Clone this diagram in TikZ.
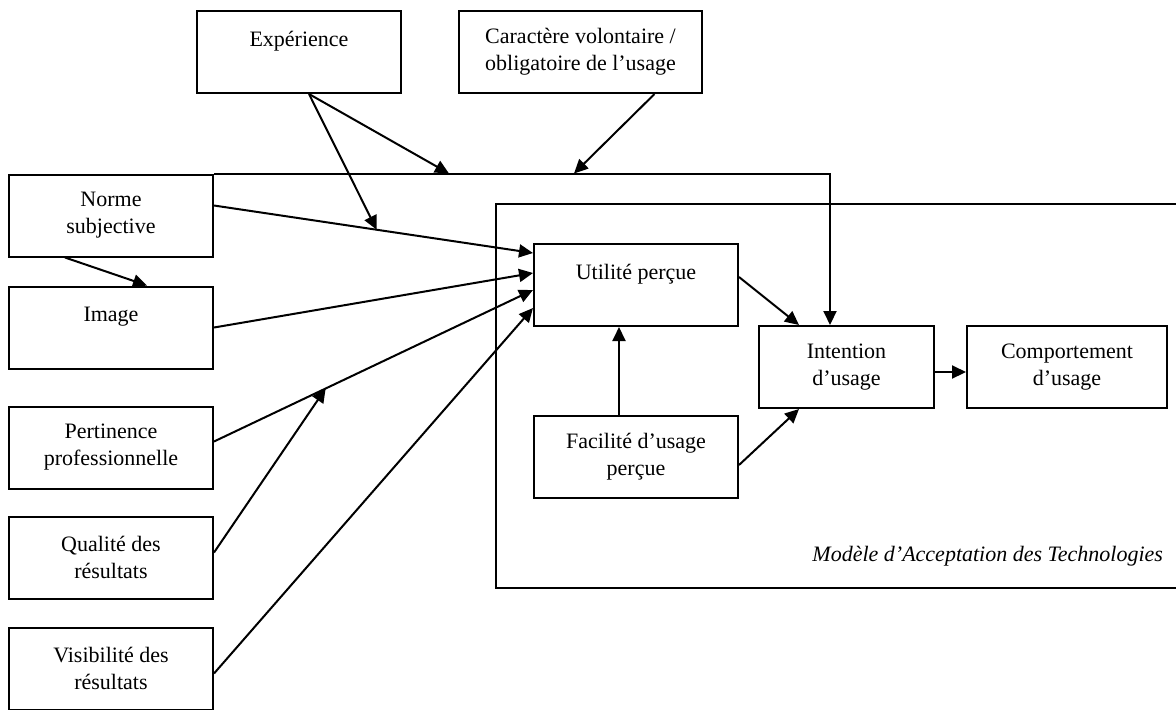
\documentclass[tikz,border=0pt]{standalone}
\usepackage{fontspec}
\setmainfont{Liberation Serif}
\usetikzlibrary{arrows.meta,calc,positioning}

\begin{document}
\begin{tikzpicture}[x=0.5pt,y=-0.5pt,node distance=56pt,
        box/.style={draw,line width=1pt,minimum width=102pt,minimum height=41pt,
            inner sep=0pt,align=center,font=\fontsize{11}{13.5}\selectfont},
        arr/.style={-{Triangle[length=7pt,width=6.5pt]},line width=1pt}]
        \useasboundingbox (0,0) rectangle (1176,709);

        % variables externes
        \node[box] (expe) at (299,52) {Expérience\\~};
        \node[box,minimum width=121.5pt] (carac) at (580.5,52) {Caractère volontaire /\\obligatoire de l’usage};

        \node[box] (norme) at (111,215.5) {Norme\\subjective};
        \node[box] (image) [below of=norme] {Image\\~};
        \node[box,node distance=60pt] (pert) [below of=image] {Pertinence\\professionnelle};
        \node[box,node distance=55pt] (qual) [below of=pert] {Qualité des\\résultats};
        \node[box,node distance=55.5pt] (visi) [below of=qual] {Visibilité des\\résultats};

        % modele TAM
        \draw[line width=1pt] (1176,204) -- (496,204) -- (496,588) -- (1176,588);
        \node[font=\fontsize{11}{13.5}\selectfont\itshape,anchor=east] (tamlbl) at (1170,556)
            {Modèle d’Acceptation des Technologies};

        \node[box] (utile) at (636,285) {Utilité perçue\\~};
        \node[box,node distance=85.75pt] (facil) [below of=utile] {Facilité d’usage\\perçue};
        \node[box,minimum width=87.5pt] (intent) at (846.5,367) {Intention\\d’usage};
        \node[box,minimum width=100pt,node distance=110.25pt] (comport) [right of=intent] {Comportement\\d’usage};

        \coordinate (turn) at ($(norme.north east)+(616,0)$);
        \coordinate (exphit) at ($(norme.north east)+(235,0)$);
        \coordinate (carhit) at ($(norme.north east)+(360,0)$);

        \draw[arr] (norme.north east) -- (turn) -- (turn |- intent.north);
        \draw[arr] ($(expe.south)+(10,0)$) -- (exphit);
        \draw[arr] ($(carac.south)+(74,0)$) -- (carhit);

        \draw[arr] ($(norme.east)+(0,-10)$) coordinate (normeout)
            -- ($(utile.west)+(0,-32)$) coordinate (normein);
        \draw[arr] ($(expe.south)+(10,0)$) -- ($(normeout)!0.51!(normein)$);
        \draw[arr] ($(norme.south)+(-46,0)$) -- ($(image.north)+(36,0)$);
        \draw[arr] (image.east) -- ($(utile.west)+(0,-12)$);
        \draw[arr] ($(pert.east)+(0,-6)$) coordinate (pertout)
            -- ($(utile.west)+(0,5)$) coordinate (pertin);
        \draw[arr] ($(qual.east)+(0,-5)$) -- ($(pertout)!0.35!(pertin)$);
        \draw[arr] ($(visi.east)+(0,5)$) -- ($(utile.west)+(0,23)$);

        \draw[arr] ($(utile.east)+(0,-8)$) -- ($(intent.north west)+(41,0)$);
        \draw[arr] ($(facil.north)+(-17,0)$) -- ($(utile.south)+(-17,0)$);
        \draw[arr] ($(facil.east)+(0,8.5)$) -- ($(intent.south west)+(41,0)$);
        \draw[arr] ($(intent.east)+(0,5)$) -- ($(comport.west)+(0,5)$);
    \end{tikzpicture}
\end{document}
